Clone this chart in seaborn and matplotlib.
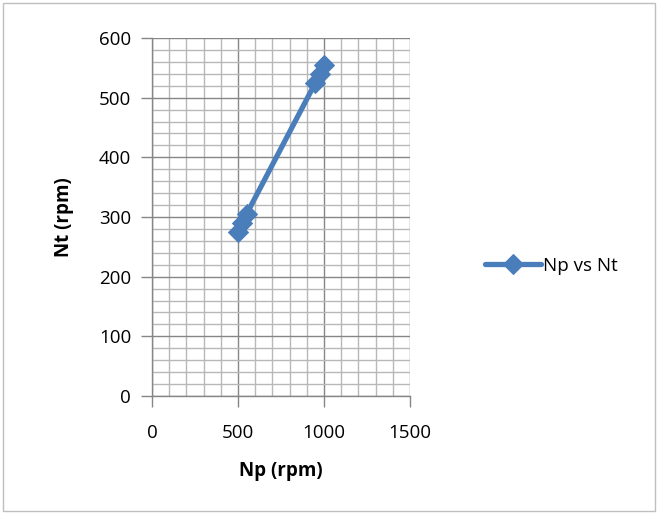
import matplotlib
matplotlib.use("Agg")
import matplotlib.pyplot as plt
import seaborn as sns
import pandas as pd
from matplotlib.ticker import MultipleLocator
from matplotlib.patches import Rectangle

np_rpm = [500, 525, 550, 950, 975, 1000]
nt_rpm = [275, 290, 305, 525, 540, 555]
series_name = "Np vs Nt"
x_ticks = [0, 500, 1000, 1500]
y_ticks = [0, 100, 200, 300, 400, 500, 600]

df = pd.DataFrame({"Np": np_rpm, "Nt": nt_rpm, "s": [series_name] * len(np_rpm)})

sns.set_style("white")
plt.rcParams["font.family"] = ["Open Sans", "DejaVu Sans"]
plt.rcParams["text.color"] = "black"
plt.rcParams["axes.labelcolor"] = "black"

fig = plt.figure(figsize=(6.59, 5.13), dpi=100)
ax = fig.add_axes([152/659, 1-396/513, (410-152)/659, (396-38)/513])

color = "#4a7ebb"
sns.lineplot(data=df, x="Np", y="Nt", hue="s", palette=[color], marker="D",
             markersize=10, linewidth=3.8, markeredgecolor=color, sort=False,
             ax=ax, zorder=5, legend=True)

ax.set_xlim(0, 1500)
ax.set_ylim(0, 600)
ax.set_xticks(x_ticks)
ax.set_yticks(y_ticks)
ax.xaxis.set_minor_locator(MultipleLocator(100))
ax.yaxis.set_minor_locator(MultipleLocator(20))
ax.grid(True, which="major", color="#868686", linewidth=1.0, zorder=0)
ax.grid(True, which="minor", color="#b8b8b8", linewidth=1.0, zorder=0)
ax.set_axisbelow(True)
for s in ["top", "right"]:
    ax.spines[s].set_visible(False)
for s in ["left", "bottom"]:
    ax.spines[s].set_color("#868686")
    ax.spines[s].set_linewidth(1.0)
ax.tick_params(axis="both", which="major", length=8, width=1.0, color="#868686",
               labelcolor="black", labelsize=13.5, direction="out",
               bottom=True, left=True)
ax.tick_params(axis="x", which="major", pad=12)
ax.tick_params(axis="y", which="major", pad=7)
ax.tick_params(axis="both", which="minor", length=0)
ax.set_xlabel("Np (rpm)", fontsize=13.5, fontweight="bold", labelpad=14, color="black")
ax.set_ylabel("Nt (rpm)", fontsize=13.5, fontweight="bold", labelpad=18, color="black")

handles, labels = ax.get_legend_handles_labels()
ax.get_legend().remove()
leg = fig.legend(handles, labels, loc="center left",
                 bbox_to_anchor=(468/659, 1-266/513), frameon=False,
                 fontsize=13.5, handlelength=3.0, handletextpad=0.1)
for h in leg.legend_handles:
    h.set_linewidth(3.8)

fig.patches.append(Rectangle((0.004, 0.004), 0.99, 0.99, transform=fig.transFigure,
                             fill=False, edgecolor="#bfbfbf", linewidth=1.0))

fig.savefig("out.png", dpi=100)
